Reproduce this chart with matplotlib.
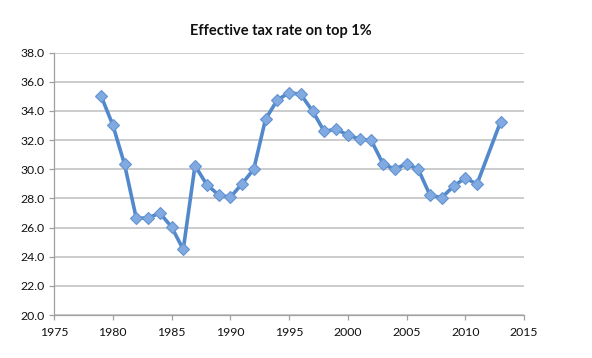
import matplotlib
matplotlib.use("Agg")
import matplotlib.pyplot as plt

years = [1979, 1980, 1981, 1982, 1983, 1984, 1985, 1986, 1987, 1988, 1989,
         1990, 1991, 1992, 1993, 1994, 1995, 1996, 1997, 1998, 1999, 2000,
         2001, 2002, 2003, 2004, 2005, 2006, 2007, 2008, 2009, 2010, 2011, 2013]
rates = [35.05, 33.05, 30.35, 26.65, 26.65, 27.0, 26.05, 24.5, 30.25, 28.95, 28.25,
         28.07, 29.0, 30.0, 33.43, 34.75, 35.25, 35.15, 34.0, 32.6, 32.75, 32.36,
         32.07, 31.98, 30.38, 30.0, 30.38, 30.0, 28.22, 28.05, 28.84, 29.4, 28.98, 33.25]
x_ticks = [1975, 1980, 1985, 1990, 1995, 2000, 2005, 2010, 2015]
y_ticks = [20.0, 22.0, 24.0, 26.0, 28.0, 30.0, 32.0, 34.0, 36.0, 38.0]
title = "Effective tax rate on top 1%"

plt.rcParams['font.family'] = ['Lato', 'DejaVu Sans']

fig = plt.figure(figsize=(5.92, 3.58), dpi=100)
ax = fig.add_axes([54/592, 1-315/358, (524-54)/592, (315-52.7)/358])

ax.plot(years, rates, color='#5289CD', lw=2.6, marker='D', markersize=6.5,
        markerfacecolor='#80AAE0', markeredgecolor='#6493D0', markeredgewidth=0.8,
        zorder=3)

ax.set_xlim(1975, 2015)
ax.set_ylim(20, 38)
ax.set_xticks(x_ticks)
ax.set_yticks(y_ticks)
ax.set_yticklabels([f"{v:.1f}" for v in y_ticks])
ax.yaxis.grid(True, color='#C8C8C8', lw=1.3)
ax.set_axisbelow(True)
for s in ['top', 'right']:
    ax.spines[s].set_visible(False)
for s in ['left', 'bottom']:
    ax.spines[s].set_color('#A0A0A0')
    ax.spines[s].set_linewidth(0.9)
ax.tick_params(axis='both', direction='out', length=3.5, width=0.9, color='#A0A0A0',
               labelsize=8.8, labelcolor='#111111', pad=3)
ax.tick_params(axis='x', pad=5)

fig.text(281/592, 1-30.7/358, title, ha='center', va='center', fontsize=10.5,
         fontweight='bold', color='#111111')

fig.savefig('out.png', dpi=100)
